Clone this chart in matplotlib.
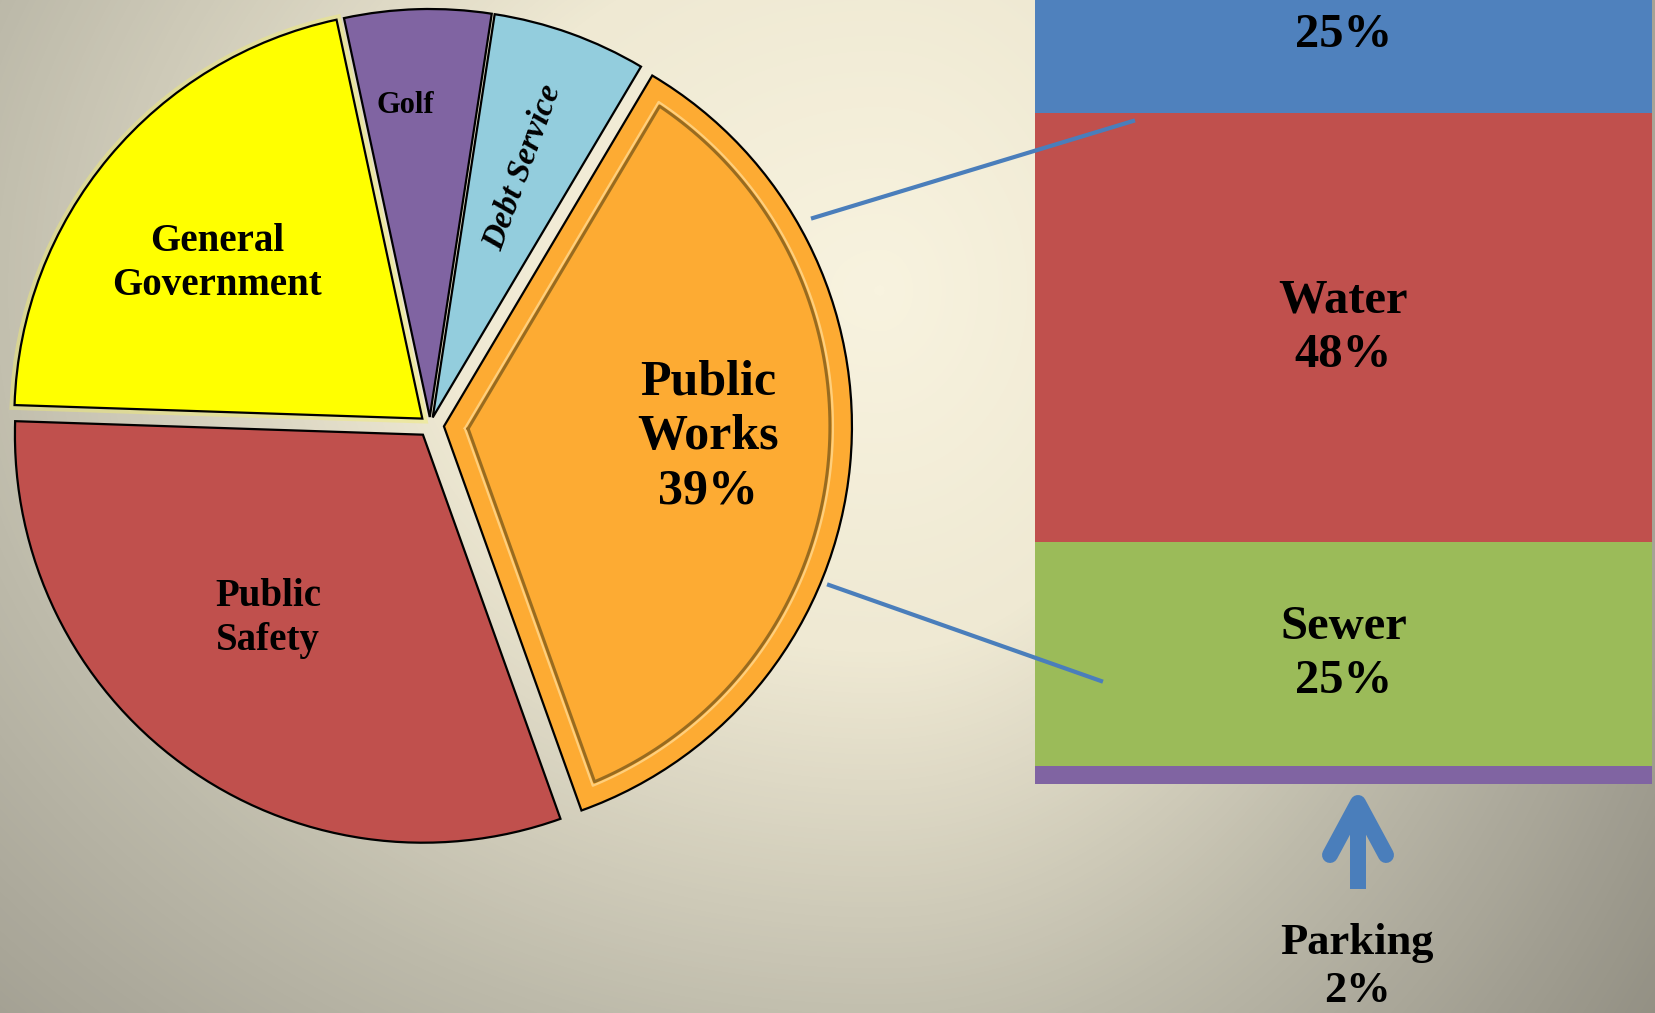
import numpy as np
import matplotlib.pyplot as plt
import matplotlib.patheffects as pe
from matplotlib.colors import LinearSegmentedColormap
from matplotlib.lines import Line2D

plt.rcParams['font.family'] = 'Liberation Serif'
plt.rcParams['font.weight'] = 'bold'

W, H = 1656, 1013

# pie slices, counterclockwise starting at Public Works
funds = ['Public Works', 'Debt Service', 'Golf', 'General Government', 'Public Safety']
shares = [36.0, 6.1, 5.8, 21.1, 31.0]
pie_colors = ['#fdab33', '#93cddd', '#8064a2', '#ffff00', '#c0504d']
explode = [14, 8, 8, 10, 12]

# public works breakdown, bottom to top
pw_parts = ['Parking', 'Sewer', 'Water', '']
pw_shares = [2, 25, 48, 25]
pw_colors = ['#8064a2', '#9bbb59', '#c0504d', '#4f81bd']

fig = plt.figure(figsize=(W / 100, H / 100), dpi=100)
ax = fig.add_axes([0, 0, 1, 1])

# background gradient
yy, xx = np.mgrid[0:H, 0:W]
cx, cy = 880, 290
sx = np.where(xx > cx, 720.0, 1100.0)
t = np.sqrt(((xx - cx) / sx) ** 2 + ((yy - cy) / 900.0) ** 2)
bg = LinearSegmentedColormap.from_list('bg', [(0, '#f8f3df'), (0.276, '#efe9d3'), (0.586, '#bdbaaa'),
                                              (0.793, '#a3a093'), (1.0, '#8b887c')])
ax.imshow(t, cmap=bg, vmin=0, vmax=1.45, extent=(0, W, 0, H), origin='upper', aspect='auto', zorder=0)

wedges, _ = ax.pie(shares, colors=pie_colors, explode=explode, startangle=-70.3, counterclock=True,
                   center=(430, H - 425), radius=408,
                   wedgeprops=dict(edgecolor='black', linewidth=1.6))
ax.set_xlim(0, W)
ax.set_ylim(0, H)
ax.set_aspect('equal')
ax.axis('off')

# soft glow on the yellow slice
wedges[3].set_path_effects([pe.Stroke(linewidth=7, foreground='#f2ee70', alpha=0.45), pe.Normal()])


# bevel inside the public works slice
def inset(w, d):
    c = np.array(w.center)
    r = w.r
    t1, t2 = np.deg2rad(w.theta1), np.deg2rad(w.theta2)
    half = (t2 - t1) / 2
    mid = (t1 + t2) / 2
    apex = c + d / np.sin(half) * np.array([np.cos(mid), np.sin(mid)])
    ends = []
    for tt in (t1, t2):
        u = np.array([np.cos(tt), np.sin(tt)])
        p = apex - c
        b = p @ u
        s = -b + np.sqrt(b * b - (p @ p - (r - d) ** 2))
        q = apex + s * u
        ends.append(np.arctan2(q[1] - c[1], q[0] - c[0]))
    a = np.linspace(ends[0], ends[1], 120)
    xs = np.concatenate([[apex[0]], c[0] + (r - d) * np.cos(a), [apex[0]]])
    ys = np.concatenate([[apex[1]], c[1] + (r - d) * np.sin(a), [apex[1]]])
    return xs, ys


bx_, by_ = inset(wedges[0], 19)
ax.plot(bx_, by_, color='#ffd68a', lw=1.6, alpha=0.85, zorder=3)
bx_, by_ = inset(wedges[0], 22)
ax.plot(bx_, by_, color='#6e5118', lw=2.2, alpha=0.7, zorder=3)

txt = dict(ha='center', va='center', fontweight='bold', color='black')
ax.text(708, H - 437, 'Public\nWorks\n39%', fontsize=36, linespacing=1.24, zorder=4, **txt)
ax.text(217, H - 263, 'General\nGovernment', fontsize=28, linespacing=1.25, zorder=4, **txt)
ax.text(268, H - 618, 'Public\nSafety', fontsize=28, linespacing=1.25, zorder=4, **txt)
ax.text(405, H - 105, 'Golf', fontsize=22, zorder=4, **txt)
ax.text(523, H - 167, 'Debt Service', fontsize=24, style='italic', rotation=70,
        rotation_mode='anchor', zorder=4, **txt)

# stacked bar for the public works breakdown
px_per_pct = 8.95
bar_bottom = 784
bx = fig.add_axes([1035 / W, (H - bar_bottom) / H, (1652 - 1035) / W, bar_bottom / H])
bx.set_xlim(-0.5, 0.5)
bx.set_ylim(0, bar_bottom / px_per_pct)
bottoms = np.cumsum([0] + pw_shares[:-1])
bx.bar([0] * len(pw_shares), pw_shares, bottom=bottoms, width=1, color=pw_colors, linewidth=0)
bx.axis('off')
for name, v, b in zip(pw_parts, pw_shares, bottoms):
    if name in ('Water', 'Sewer'):
        bx.text(0, b + v / 2, f'{name}\n{v}%', fontsize=35, linespacing=1.3, **txt)
bx.text(0, 83.7, f'{pw_shares[3]}%', fontsize=35, **txt)

# connector lines
blue = '#4a7ebb'
for (x0, y0), (x1, y1) in [((813, 218), (1133, 121)), ((829, 585), (1101, 681))]:
    fig.add_artist(Line2D([x0, x1], [H - y0, H - y1], color=blue, lw=3,
                          transform=ax.transData, zorder=5))

# arrow pointing at the parking slice
ax.plot([1358, 1358], [H - 889, H - 808], color=blue, lw=11.5, solid_capstyle='butt', zorder=3)
ax.plot([1330, 1358, 1386], [H - 855, H - 803, H - 855], color=blue, lw=11.5,
        solid_capstyle='round', solid_joinstyle='round', zorder=3)
ax.text(1357, H - 967, f'{pw_parts[0]}\n{pw_shares[0]}%', fontsize=32, linespacing=1.25, zorder=4, **txt)

plt.savefig('out.png', dpi=100)
